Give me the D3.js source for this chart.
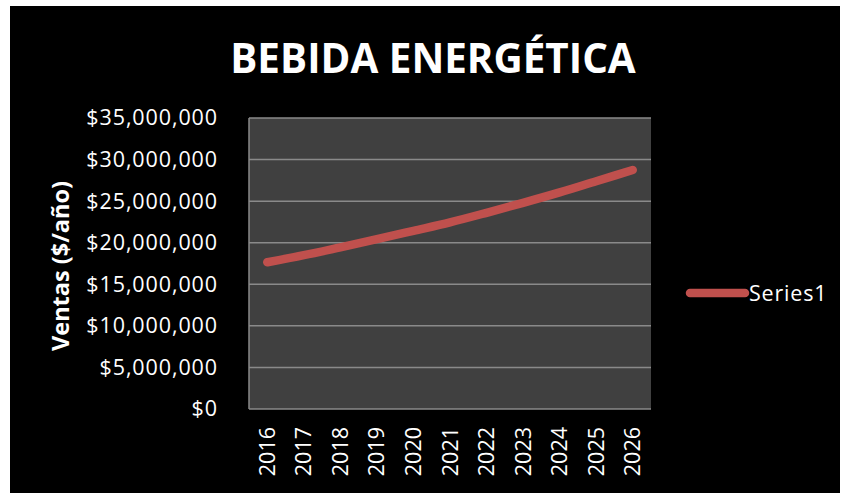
<!DOCTYPE html>
<html><head><meta charset="utf-8">
<script src="https://cdn.jsdelivr.net/npm/d3@7"></script>
<style>body{margin:0;background:#fff;}svg{display:block;}</style>
</head><body>
<script>
const title = "BEBIDA ENERGÉTICA";
const yAxisTitle = "Ventas ($/año)";
const seriesName = "Series1";
const years = ["2016","2017","2018","2019","2020","2021","2022","2023","2024","2025","2026"];
const sales = [17650000,18500000,19450000,20420000,21430000,22450000,23600000,24800000,26050000,27400000,28750000];
const yTicks = [0,5000000,10000000,15000000,20000000,25000000,30000000,35000000];

const W = 841, H = 493;
const font = "'Open Sans', 'Liberation Sans', sans-serif";
const svg = d3.select("body").append("svg").attr("width", W).attr("height", H);
svg.append("rect").attr("x",10).attr("y",6).attr("width",830).attr("height",487).attr("fill","#000");

const plot = {l:249, t:118, r:651, b:409};
const x = d3.scaleBand().domain(years).range([plot.l, plot.r]);
const y = d3.scaleLinear().domain([0,35000000]).range([plot.b, plot.t]);

svg.append("rect").attr("x",plot.l).attr("y",plot.t).attr("width",plot.r-plot.l).attr("height",plot.b-plot.t)
  .attr("fill","#404040");

// gridlines
svg.append("g").selectAll("line").data(yTicks).join("line")
  .attr("x1",plot.l).attr("x2",plot.r).attr("y1",d=>y(d)).attr("y2",d=>y(d))
  .attr("stroke","#8a8a8a").attr("stroke-width",1.5);
svg.append("line").attr("x1",plot.l).attr("x2",plot.l).attr("y1",plot.t).attr("y2",plot.b)
  .attr("stroke","#8a8a8a").attr("stroke-width",1.5);

// y axis labels
const fmt = d => "$" + d3.format(",")(d);
const yAxis = d3.axisLeft(y).tickValues(yTicks).tickFormat(fmt).tickSize(0).tickPadding(31);
const gy = svg.append("g").attr("transform",`translate(${plot.l},0)`).call(yAxis);
gy.select(".domain").remove();
gy.selectAll("text").attr("fill","#fff").style("font-family",font).style("font-size","21.5px")
  .style("letter-spacing","0.9px");

// x axis labels
const xAxis = d3.axisBottom(x).tickSize(0).tickPadding(0);
const gx = svg.append("g").attr("transform",`translate(0,${plot.b})`).call(xAxis);
gx.select(".domain").remove();
gx.selectAll("text").attr("fill","#fff").style("font-family",font).style("font-size","21.5px")
  .attr("transform","rotate(-90)").attr("text-anchor","end").attr("dy","0.35em").attr("x",-18).attr("y",0);

// line
const line = d3.line().x((d,i)=>x(years[i])+x.bandwidth()/2).y(d=>y(d)).curve(d3.curveMonotoneX);
svg.append("path").datum(sales).attr("d",line).attr("fill","none")
  .attr("stroke","#c0504d").attr("stroke-width",8.5).attr("stroke-linecap","round").attr("stroke-linejoin","round");

// title
const t = svg.append("text").attr("x",433).attr("y",73).attr("text-anchor","middle")
  .attr("fill","#fff").style("font-family",font).style("font-weight","bold").style("font-size","40px").text(title);
const tw = t.node().getComputedTextLength();
t.style("font-size", (40*406/tw).toFixed(1)+"px");

// y axis title
const yt = svg.append("text").attr("transform","translate(69,266) rotate(-90)").attr("text-anchor","middle")
  .attr("fill","#fff").style("font-family",font).style("font-weight","bold").style("font-size","20px").text(yAxisTitle);
const yw = yt.node().getComputedTextLength();
yt.style("font-size", (20*170/yw).toFixed(1)+"px");

// legend
svg.append("line").attr("x1",690).attr("x2",745).attr("y1",293).attr("y2",293)
  .attr("stroke","#c0504d").attr("stroke-width",8.5).attr("stroke-linecap","round");
svg.append("text").attr("x",749).attr("y",300.5).attr("fill","#fff").style("font-family",font)
  .style("font-size","21.5px").style("letter-spacing","0.8px").text(seriesName);
</script>
</body></html>
